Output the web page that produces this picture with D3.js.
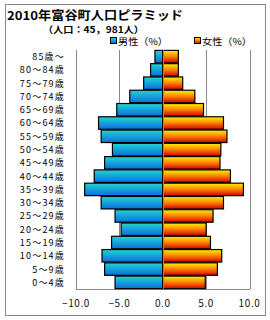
<!DOCTYPE html>
<html>
<head>
<meta charset="utf-8">
<script src="https://cdn.jsdelivr.net/npm/d3@7"></script>
<style>
  body { margin: 0; background: #fff; }
  svg text { font-family: "Noto Sans CJK JP", "DejaVu Sans", sans-serif; }
</style>
</head>
<body>
<svg id="chart" width="270" height="320"></svg>
<script>
// age groups, top to bottom
var ages = ["85歳～", "80～84歳", "75～79歳", "70～74歳", "65～69歳", "60～64歳", "55～59歳",
  "50～54歳", "45～49歳", "40～44歳", "35～39歳", "30～34歳", "25～29歳", "20～24歳",
  "15～19歳", "10～14歳", "5～9歳", "0～4歳"];
var male   = [0.9, 1.4, 2.2, 3.8, 5.3, 7.4, 7.1, 5.8, 6.7, 7.9, 9.0, 7.1, 5.5, 4.8, 5.9, 7.0, 6.7, 5.5];
var female = [1.8, 1.8, 2.3, 3.7, 4.7, 7.0, 7.4, 6.7, 6.6, 7.8, 9.3, 7.0, 5.8, 5.0, 5.5, 6.8, 6.3, 4.9];
var xTicks = [-10, -5, 0, 5, 10];

var svg = d3.select("#chart");

// frame
svg.append("rect").attr("x", 5.5).attr("y", 4.5).attr("width", 260).attr("height", 311)
  .attr("fill", "#fff").attr("stroke", "#888");

var defs = svg.append("defs");
var gm = defs.append("linearGradient").attr("id", "gm").attr("x1", 0).attr("y1", 0).attr("x2", 0).attr("y2", 1);
gm.append("stop").attr("offset", "0%").attr("stop-color", "#22d4d0");
gm.append("stop").attr("offset", "100%").attr("stop-color", "#0a6ee0");
var gf = defs.append("linearGradient").attr("id", "gf").attr("x1", 0).attr("y1", 0).attr("x2", 0).attr("y2", 1);
gf.append("stop").attr("offset", "0%").attr("stop-color", "#fff200");
gf.append("stop").attr("offset", "45%").attr("stop-color", "#ff8c00");
gf.append("stop").attr("offset", "100%").attr("stop-color", "#d80000");

var x = d3.scaleLinear().domain([-10, 10]).range([76, 249.5]);
var y = d3.scaleBand().domain(ages).range([50, 289]).paddingInner(0.06).paddingOuter(0.03);

// grid
svg.selectAll(".grid").data(xTicks).enter().append("line")
  .attr("x1", function (d) { return Math.round(x(d)) + 0.5; })
  .attr("x2", function (d) { return Math.round(x(d)) + 0.5; })
  .attr("y1", 50).attr("y2", 289)
  .attr("stroke", "#888").attr("stroke-width", 1);
svg.append("line").attr("x1", 76).attr("x2", 250).attr("y1", 289.5).attr("y2", 289.5)
  .attr("stroke", "#888");

// bars
svg.selectAll(".m").data(male).enter().append("rect")
  .attr("x", function (d) { return x(-d); })
  .attr("y", function (d, i) { return y(ages[i]); })
  .attr("width", function (d) { return x(0) - x(-d); })
  .attr("height", y.bandwidth())
  .attr("fill", "url(#gm)").attr("stroke", "#000").attr("stroke-width", 1.2);
svg.selectAll(".f").data(female).enter().append("rect")
  .attr("x", x(0))
  .attr("y", function (d, i) { return y(ages[i]); })
  .attr("width", function (d) { return x(d) - x(0); })
  .attr("height", y.bandwidth())
  .attr("fill", "url(#gf)").attr("stroke", "#000").attr("stroke-width", 1.2);
svg.append("line").attr("x1", Math.round(x(0)) + 0.5).attr("x2", Math.round(x(0)) + 0.5)
  .attr("y1", 50).attr("y2", 289).attr("stroke", "#888");

// category labels
svg.selectAll(".cat").data(ages).enter().append("text")
  .attr("x", 65)
  .attr("y", function (d) { return y(d) + y.bandwidth() / 2; })
  .attr("dy", "0.38em")
  .attr("text-anchor", "end")
  .attr("font-size", 9).attr("letter-spacing", 1.2)
  .attr("fill", "#000")
  .text(function (d) { return d; });

// x tick labels
svg.selectAll(".tick").data(xTicks).enter().append("text")
  .attr("x", function (d) { return x(d); })
  .attr("y", 303).attr("dy", "0.36em")
  .attr("text-anchor", "middle")
  .attr("font-size", 10).attr("letter-spacing", 0.6)
  .attr("fill", "#112")
  .text(function (d) { return d3.format(".1f")(d).replace("-", "−"); });

// titles
svg.append("text").attr("x", 7).attr("y", 19.5)
  .attr("font-size", 12).attr("font-weight", "bold")
  .attr("textLength", 176).attr("lengthAdjust", "spacingAndGlyphs")
  .text("2010年富谷町人口ピラミッド");
svg.append("text").attr("x", 43).attr("y", 32.5)
  .attr("font-size", 9).attr("font-weight", "bold")
  .attr("textLength", 101).attr("lengthAdjust", "spacingAndGlyphs")
  .text("（人口：45，981人）");

// legend
var legend = [{ t: "男性（%）", x: 110, fill: "url(#gm)" }, { t: "女性（%）", x: 194, fill: "url(#gf)" }];
legend.forEach(function (l) {
  svg.append("rect").attr("x", l.x + 0.5).attr("y", 37.5).attr("width", 6).attr("height", 6)
    .attr("fill", l.fill).attr("stroke", "#000");
  svg.append("text").attr("x", l.x + 8).attr("y", 45)
    .attr("font-size", 9.5).attr("textLength", 50).attr("lengthAdjust", "spacingAndGlyphs")
    .text(l.t);
});
</script>
</body>
</html>
